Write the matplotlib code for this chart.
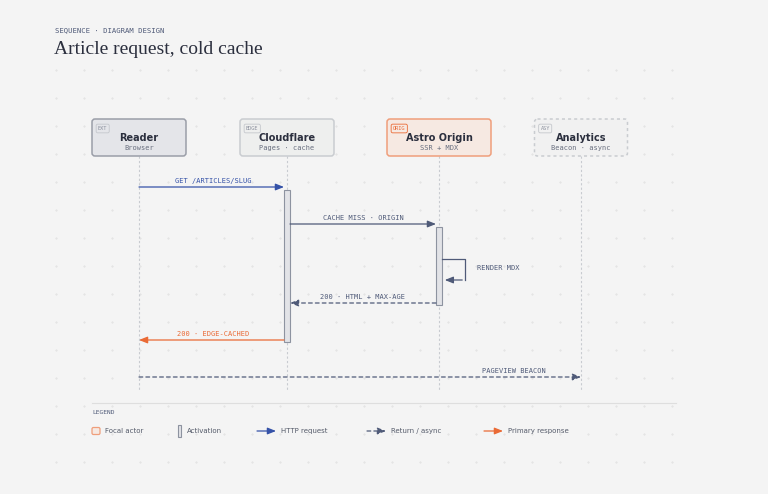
import matplotlib
matplotlib.use("Agg")
import matplotlib.pyplot as plt
from matplotlib.patches import FancyBboxPatch, Rectangle

actors = ["Reader", "Cloudflare", "Astro Origin", "Analytics"]
actor_tags = ["EXT", "EDGE", "ORIG", "ASY"]
actor_subs = ["Browser", "Pages · cache", "SSR + MDX", "Beacon · async"]
msg_from = [0, 1, 2, 2, 1, 0]
msg_to = [1, 2, 2, 1, 0, 3]
msg_labels = ["GET /ARTICLES/SLUG", "CACHE MISS · ORIGIN", "RENDER MDX",
              "200 · HTML + MAX-AGE", "200 · EDGE-CACHED", "PAGEVIEW BEACON"]
msg_kind = ["http", "req", "self", "return", "primary", "return"]
legend_labels = ["Focal actor", "Activation", "HTTP request", "Return / async", "Primary response"]

BG = "#f4f4f4"; INK = "#2b2f3e"; SLATE = "#4f5a78"; BLUE = "#3552a8"
ORANGE = "#ea6a35"; GREY = "#8a8f9c"
MONO = "DejaVu Sans Mono"

fig = plt.figure(figsize=(7.68, 4.94), dpi=100, facecolor=BG)
ax = fig.add_axes([0, 0, 1, 1]); ax.set_xlim(0, 768); ax.set_ylim(494, 0); ax.axis("off")
ax.set_facecolor(BG)

# dot grid
for gx in range(56, 700, 28):
    for gy in range(70, 470, 28):
        ax.plot(gx, gy, marker=".", ms=0.8, color="#dcdcdc", zorder=0)

ax.text(55, 30, "SEQUENCE · DIAGRAM DESIGN", fontsize=5.2, family=MONO, color=SLATE, va="center")
ax.text(54, 49, "Article request, cold cache", fontsize=14, family="Liberation Serif", color=INK,
        va="center", stretch="condensed")

cx = [139, 287, 439, 581]; bw = [94, 94, 104, 93]
styles = [dict(fc="#e4e5e9", ec="#9a9ea8", ls="-"), dict(fc="#eeefee", ec="#c9ccd0", ls="-"),
          dict(fc="#f6e9e2", ec="#ef9e7b", ls="-"), dict(fc="#f1f1f1", ec="#c9ccd0", ls=(0, (2, 2)))]
for i, name in enumerate(actors):
    s = styles[i]
    ax.add_patch(FancyBboxPatch((cx[i]-bw[i]/2, 119), bw[i], 37, boxstyle="round,pad=0,rounding_size=3",
                                fc=s["fc"], ec=s["ec"], lw=1.1, ls=s["ls"], zorder=2))
    tc = ORANGE if i == 2 else GREY
    ax.text(cx[i]-bw[i]/2+6, 128.5, actor_tags[i], fontsize=3.8, family=MONO, color=tc, va="center", zorder=4,
            bbox=dict(boxstyle="round,pad=0.35,rounding_size=0.3", fc="none", ec=tc if i == 2 else "#c4c7cc", lw=0.6))
    ax.text(cx[i], 137.5, name, fontsize=7, weight="bold", color=INK, ha="center", va="center", zorder=4)
    ax.text(cx[i], 148, actor_subs[i], fontsize=5, family=MONO, color="#6a7080", ha="center", va="center", zorder=4)
    ax.plot([cx[i], cx[i]], [156, 390], color="#c8cbd0", lw=0.8, ls=(0, (2, 2)), zorder=1)

# activations
ax.add_patch(Rectangle((284, 190), 6, 152, fc="#e2e3e7", ec="#8d93a0", lw=0.8, zorder=3))
ax.add_patch(Rectangle((436, 227), 6, 78, fc="#e2e3e7", ec="#8d93a0", lw=0.8, zorder=3))

colors = {"http": BLUE, "req": SLATE, "self": SLATE, "return": SLATE, "primary": ORANGE}
ys = [187, 224, 259, 303, 340, 377]
for f, t, lab, k, y in zip(msg_from, msg_to, msg_labels, msg_kind, ys):
    c = colors[k]
    if k == "self":
        x0 = cx[f] + 3
        ax.plot([x0, 465, 465], [y, y, y+21], color=c, lw=0.9, zorder=4)
        ax.annotate("", xy=(x0, y+21), xytext=(465, y+21),
                    arrowprops=dict(arrowstyle="-|>,head_length=0.5,head_width=0.2", color=c, lw=0.9), zorder=4)
        ax.text(477, y+9, lab, fontsize=5, family=MONO, color=SLATE, va="center")
        continue
    x0 = cx[f] + (3 if cx[t] > cx[f] else -3) * (f in (1, 2))
    x1 = cx[t] - (3 if cx[t] > cx[f] else -3) * (t in (1, 2))
    ls = (0, (3, 2.5)) if k == "return" else "-"
    ax.annotate("", xy=(x1, y), xytext=(x0, y),
                arrowprops=dict(arrowstyle="-|>,head_length=0.5,head_width=0.2", color=c, lw=0.9, ls=ls,
                                shrinkA=0, shrinkB=0), zorder=4)
    lc = BLUE if k == "http" else (ORANGE if k == "primary" else SLATE)
    lx = (cx[f] + cx[t]) / 2 if k != "return" or t != 3 else 514
    ax.text(lx, y-6, lab, fontsize=5, family=MONO, color=lc, ha="center", va="center")

# legend
ax.plot([92, 676], [403, 403], color="#dedede", lw=0.8)
ax.text(92, 412, "LEGEND", fontsize=4.5, family=MONO, color=SLATE, va="center")
ly = 431
ax.add_patch(FancyBboxPatch((92, ly-3.5), 8, 7, boxstyle="round,pad=0,rounding_size=1.5",
                            fc="#f6e9e2", ec="#ef9e7b", lw=0.9))
ax.text(105, ly, legend_labels[0], fontsize=5, color="#555b6a", va="center")
ax.add_patch(Rectangle((178, ly-6), 3, 12, fc="#e2e3e7", ec="#8d93a0", lw=0.8))
ax.text(187, ly, legend_labels[1], fontsize=5, color="#555b6a", va="center")
for x0, lab, c, ls in [(257, legend_labels[2], BLUE, "-"), (367, legend_labels[3], SLATE, (0, (3, 2.5))),
                       (484, legend_labels[4], ORANGE, "-")]:
    ax.annotate("", xy=(x0+19, ly), xytext=(x0, ly),
                arrowprops=dict(arrowstyle="-|>,head_length=0.5,head_width=0.2", color=c, lw=0.9, ls=ls,
                                shrinkA=0, shrinkB=0))
    ax.text(x0+24, ly, lab, fontsize=5, color="#555b6a", va="center")

fig.savefig("out.png", dpi=100, facecolor=BG)
